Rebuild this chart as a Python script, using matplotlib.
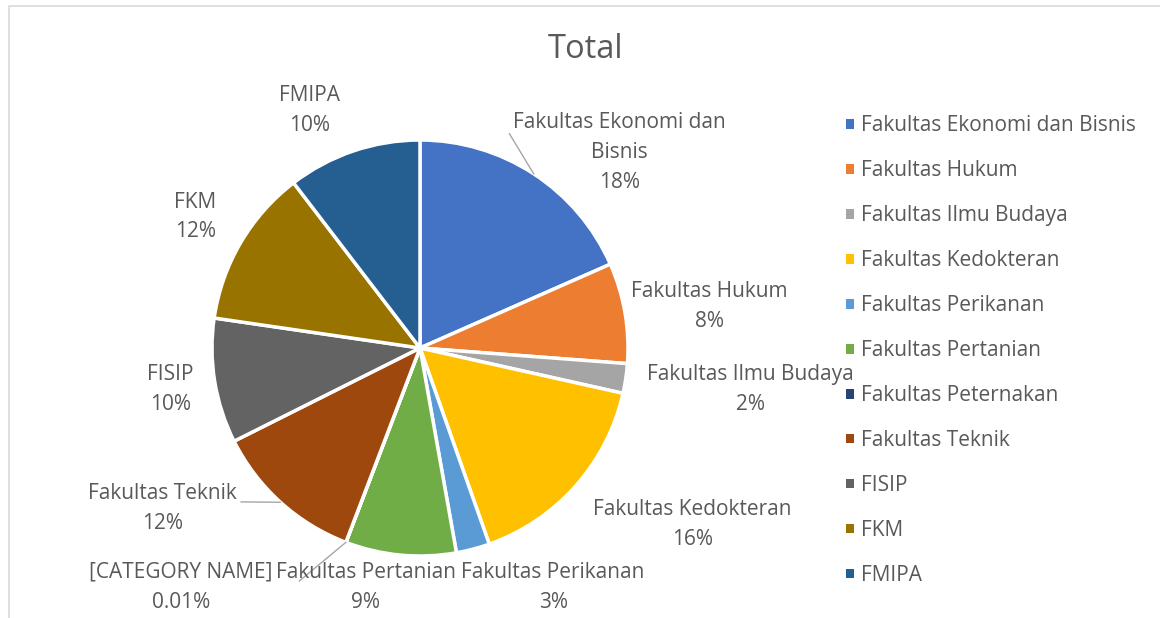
import numpy as np
import matplotlib
matplotlib.use("Agg")
import matplotlib.pyplot as plt
from matplotlib.patches import Patch, Rectangle

plt.rcParams['font.family'] = ['Open Sans', 'DejaVu Sans']

# data
fakultas = ['Fakultas Ekonomi dan Bisnis', 'Fakultas Hukum', 'Fakultas Ilmu Budaya',
            'Fakultas Kedokteran', 'Fakultas Perikanan', 'Fakultas Pertanian',
            'Fakultas Peternakan', 'Fakultas Teknik', 'FISIP', 'FKM', 'FMIPA']
label_nama = ['Fakultas Ekonomi dan\nBisnis', 'Fakultas Hukum', 'Fakultas Ilmu Budaya',
              'Fakultas Kedokteran', 'Fakultas Perikanan', 'Fakultas Pertanian',
              '[CATEGORY NAME]', 'Fakultas Teknik', 'FISIP', 'FKM', 'FMIPA']
nilai = [18.4, 7.8, 2.3, 16.1, 2.6, 8.6, 0.01, 11.8, 9.7, 12.3, 10.4]

warna = ['#4472C4', '#ED7D31', '#A5A5A5', '#FFC000', '#5B9BD5', '#70AD47',
         '#264478', '#9E480E', '#636363', '#997300', '#255E91']

# posisi label (satuan jari-jari pie)
pos_label = [(0.96, 0.94), (1.39, 0.20), (1.59, -0.20), (1.31, -0.85), (0.64, -1.15),
             (-0.26, -1.15), (-1.15, -1.15), (-1.24, -0.77), (-1.20, -0.20),
             (-1.08, 0.63), (-0.53, 1.14)]
# ujung garis penunjuk (hanya beberapa label)
garis = {0: (0.43, 1.03), 7: (-0.86, -0.74), 6: (-0.58, -1.12)}

teks = '#595959'
W, H = 1160, 618
fig = plt.figure(figsize=(W / 100, H / 100), dpi=100)

# bingkai chart
fig.patches.append(Rectangle((9 / W, -0.1), 1.2, 1 - 6 / H + 0.1, transform=fig.transFigure,
                             fill=False, edgecolor='#D9D9D9', linewidth=1.2))

cx, cy, r = 420, 348, 208
ax = fig.add_axes([(cx - r) / W, (H - cy - r) / H, 2 * r / W, 2 * r / H])
wedges, _ = ax.pie(nilai, colors=warna, startangle=90, counterclock=False,
                   wedgeprops=dict(edgecolor='white', linewidth=2.5))
ax.set_xlim(-1, 1)
ax.set_ylim(-1, 1)
ax.set_aspect('equal')
ax.axis('off')

total = sum(nilai)
for i, w in enumerate(wedges):
    pct = nilai[i] / total * 100
    s = f'{pct:.2f}%' if pct < 1 else f'{pct:.0f}%'
    x, y = pos_label[i]
    ax.text(x, y, f'{label_nama[i]}\n{s}', ha='center', va='center', fontsize=15,
            color=teks, linespacing=1.55, clip_on=False)
    if i in garis:
        mid = np.deg2rad((w.theta1 + w.theta2) / 2)
        ax.plot([np.cos(mid), garis[i][0]], [np.sin(mid), garis[i][1]],
                color='#A6A6A6', linewidth=1, clip_on=False)

fig.text(585 / W, 1 - 50 / H, 'Total', ha='center', va='center', fontsize=23.5, color=teks)

handles = [Patch(facecolor=c, edgecolor='none') for c in warna]
fig.legend(handles, fakultas, loc='upper left', bbox_to_anchor=(838 / W, 1 - 107 / H),
           frameon=False, fontsize=15, labelcolor=teks, handlelength=0.35, handleheight=0.35,
           handletextpad=0.35, labelspacing=1.15, borderaxespad=0)

fig.savefig('out.png', dpi=100)
